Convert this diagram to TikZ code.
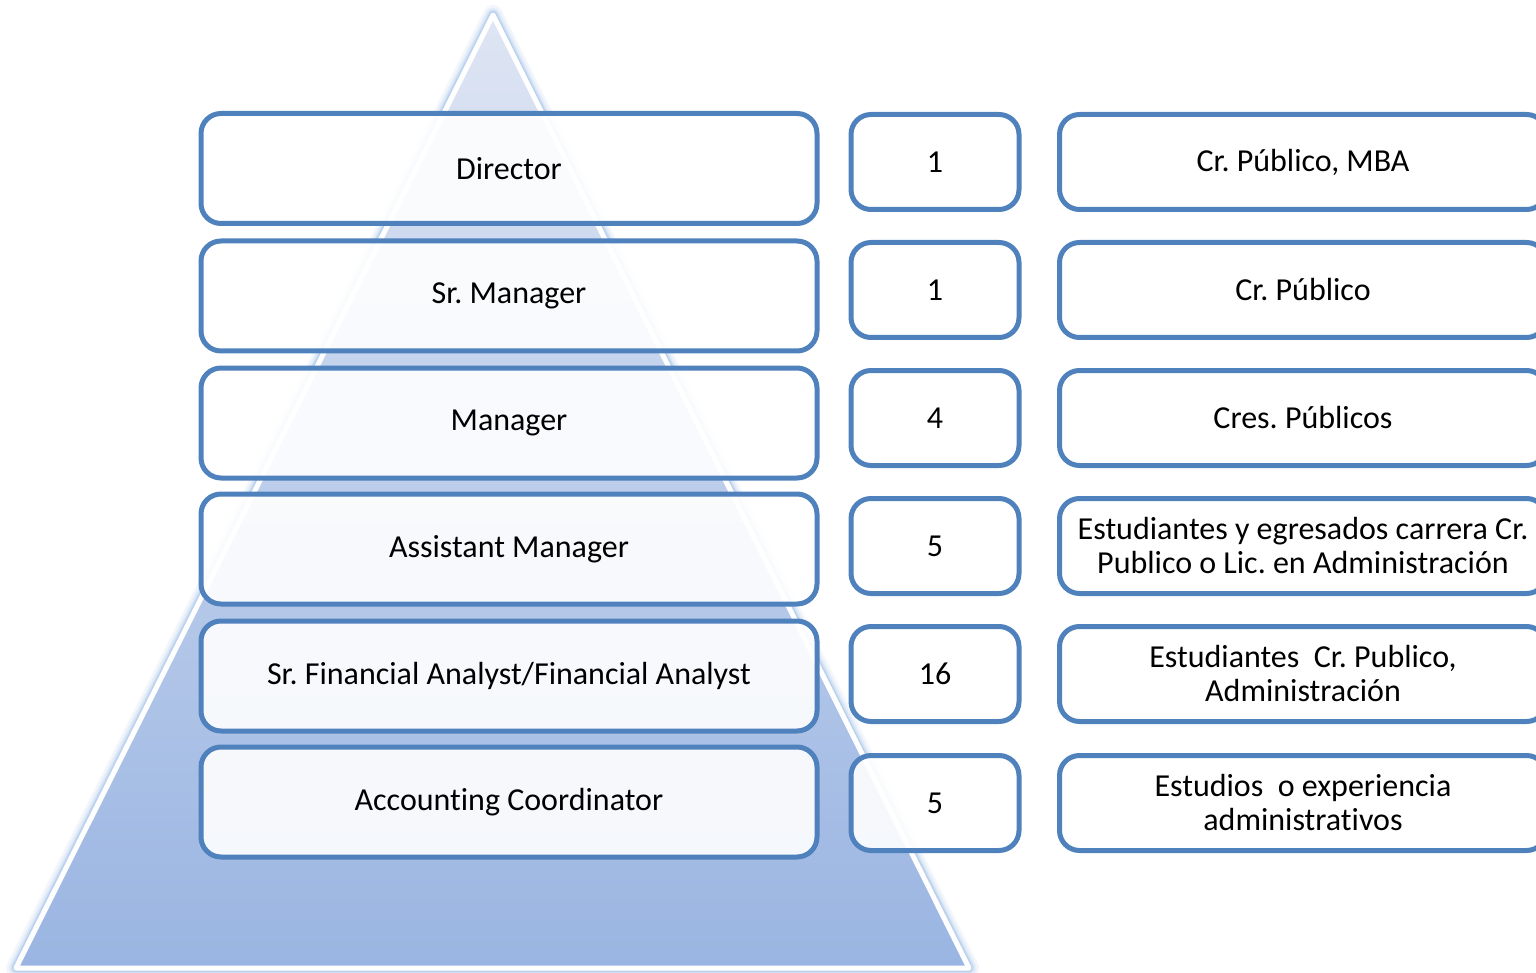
\documentclass[tikz,border=0pt]{standalone}
\usepackage{fontspec}
\setmainfont[Ligatures=NoCommon]{Carlito}
\definecolor{boxblue}{HTML}{4F81BD}
\definecolor{tritop}{HTML}{DEE5F3}
\definecolor{tribot}{HTML}{9AB5E2}
\definecolor{glow}{HTML}{8DB3E2}
\tikzset{
  lbox/.style={draw=boxblue, line width=5pt, rounded corners=20pt, fill=white, fill opacity=0.9, text opacity=1,
    minimum width=616pt, minimum height=110pt, inner sep=0pt, align=center, font=\fontsize{32}{34}\selectfont\frenchspacing},
  mbox/.style={lbox, minimum width=168pt, minimum height=95pt},
  rbox/.style={lbox, minimum width=487pt, minimum height=95pt}
}
\begin{document}
\begin{tikzpicture}[x=1pt,y=-1pt]
\useasboundingbox (0,0) rectangle (1536,973);
\clip (0,0) rectangle (1536,973);
% pyramid glow
\coordinate (A) at (493,15);
\coordinate (B) at (16,968);
\coordinate (C) at (969,968);
\foreach \w/\o in {20/0.10,15/0.15,11/0.22,8/0.35} {
  \draw[glow, line width=\w pt, opacity=\o, line join=round] (A) -- (B) -- (C) -- cycle;
}
\shade[top color=tritop, bottom color=tribot] (A) -- (B) -- (C) -- cycle;
\draw[white, line width=5pt, line join=round] (A) -- (B) -- (C) -- cycle;
% left column
\node[lbox] (l1) at (509,168.5) {Director};
\node[lbox] (l2) at (509,296) {Sr. Manager};
\node[lbox] (l3) at (509,423) {Manager};
\node[lbox] (l4) at (509,549) {Assistant Manager};
\node[lbox] (l5) at (509,676) {Sr. Financial Analyst/Financial Analyst};
\node[lbox] (l6) at (509,802) {Accounting Coordinator};
% middle column
\node[mbox] (m1) at (935,162) {1};
\node[mbox] (m2) at (935,290) {1};
\node[mbox] (m3) at (935,418) {4};
\node[mbox] (m4) at (935,546) {5};
\node[mbox] (m5) at (935,674) {16};
\node[mbox] (m6) at (935,803) {5};
% right column
\node[rbox] (r1) at (1303,162) {Cr. Público, MBA};
\node[rbox] (r2) at (1303,290) {Cr. Público};
\node[rbox] (r3) at (1303,418) {Cres. Públicos};
\node[rbox] (r4) at (1303,546) {Estudiantes y egresados carrera Cr.\\Publico o Lic. en Administración};
\node[rbox] (r5) at (1303,674) {Estudiantes\ \ Cr. Publico,\\Administración};
\node[rbox] (r6) at (1303,803) {Estudios\ \ o experiencia\\administrativos};
\end{tikzpicture}
\end{document}
